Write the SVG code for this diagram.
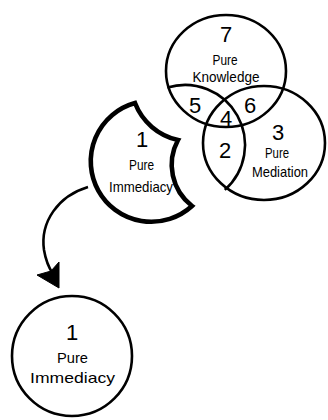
<svg xmlns="http://www.w3.org/2000/svg" width="328" height="420" viewBox="0 0 328 420">
<style>
.c{fill:none;stroke:#000;stroke-width:2.6}
.b{fill:none;stroke:#000;stroke-width:4.6;stroke-linejoin:miter}
text{font-family:"Liberation Sans",Arial,sans-serif;fill:#000;text-anchor:middle}
.n{font-size:22px}
.l{font-size:15px}
</style>
<rect width="328" height="420" fill="#fff"/>
<g id="knowledge">
<ellipse class="c" cx="226" cy="71" rx="60" ry="56"/>
<text class="n" x="226" y="42" font-size="24">7</text>
<text class="l" x="225" y="65" textLength="25" lengthAdjust="spacingAndGlyphs">Pure</text>
<text class="l" x="226" y="82" textLength="67" lengthAdjust="spacingAndGlyphs">Knowledge</text>
</g>
<g id="mediation">
<ellipse class="c" cx="264" cy="143" rx="61" ry="57"/>
<text class="n" x="278" y="140">3</text>
<text class="l" x="277" y="158" textLength="24" lengthAdjust="spacingAndGlyphs">Pure</text>
<text class="l" x="280" y="177" textLength="56" lengthAdjust="spacingAndGlyphs">Mediation</text>
</g>
<g id="immediacy-slot">
<path class="c" d="M167.5,87.6 A60,60 0 0,1 224.8,189.9"/>
<text class="n" x="195" y="113">5</text>
<text class="n" x="250" y="113">6</text>
<text class="n" x="226" y="126" font-size="18">4</text>
<text class="n" x="225" y="158">2</text>
</g>
<g id="immediacy-cut">
<path class="b" d="M135,103 A60,60 0 0,0 178,140 A52,52 0 0,0 192,206 A60.5,60.5 0 1,1 135,103 Z"/>
<text class="n" x="142" y="147" font-size="20">1</text>
<text class="l" x="141.5" y="170" font-size="16" textLength="25" lengthAdjust="spacingAndGlyphs">Pure</text>
<text class="l" x="141" y="192" textLength="64" lengthAdjust="spacingAndGlyphs">Immediacy</text>
</g>
<g id="immediacy">
<circle class="c" cx="72" cy="356" r="60"/>
<text class="n" x="72" y="340" font-size="25">1</text>
<text class="l" x="72.5" y="363" font-size="17" textLength="31" lengthAdjust="spacingAndGlyphs">Pure</text>
<text class="l" x="72.5" y="383" font-size="17" textLength="85" lengthAdjust="spacingAndGlyphs">Immediacy</text>
</g>
<g id="connectors">
<path class="c" d="M88,187 C58,196 40,222 44,250 C46,262 49,268 53,274"/>
<path d="M59,288 L37,275 L51,271 L59,262 Z" fill="#000" stroke="#000" stroke-width="1" stroke-linejoin="round"/>
</g>
</svg>
